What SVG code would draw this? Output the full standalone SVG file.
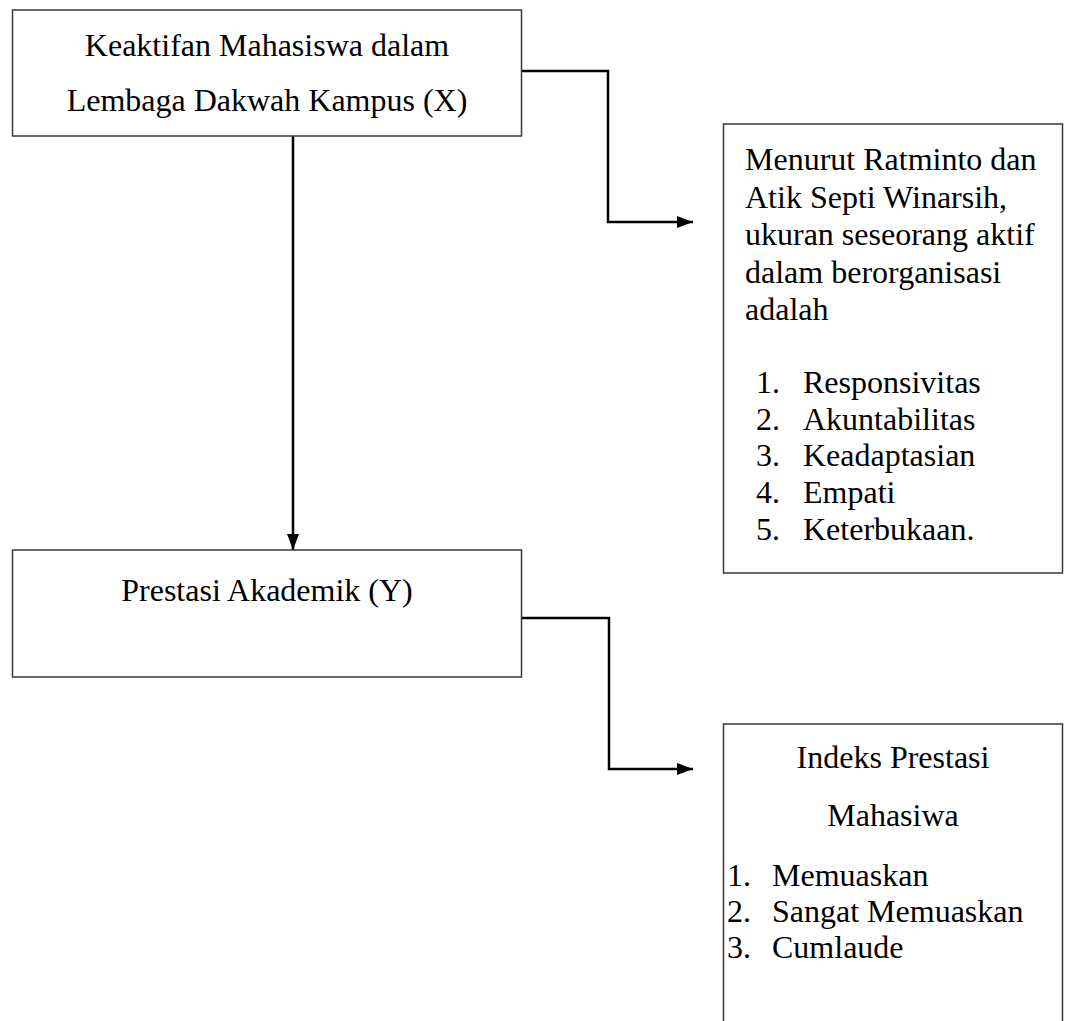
<svg xmlns="http://www.w3.org/2000/svg" width="1070" height="1021" viewBox="0 0 1070 1021">
<style>
.box{fill:#fff;stroke:#3a3a3a;stroke-width:1.5}
.t{font-family:"Liberation Serif","Times New Roman",serif;font-size:32px;fill:#000}
.c{text-anchor:middle}
.con{fill:none;stroke:#000;stroke-width:2.5}
</style>
<defs>
<marker id="ah" viewBox="0 0 16 12" refX="16" refY="6" markerWidth="16" markerHeight="12" markerUnits="userSpaceOnUse" orient="auto">
<path d="M0,0 L16,6 L0,12 Z" fill="#000"/>
</marker>
</defs>
<rect width="1070" height="1021" fill="#fff"/>
<g id="connectors">
<path class="con" d="M293,136 L293,550" marker-end="url(#ah)"/>
<path class="con" d="M522,71 L608,71 L608,222 L693,222" marker-end="url(#ah)"/>
<path class="con" d="M522,618 L609,618 L609,769 L693,769" marker-end="url(#ah)"/>
</g>
<g id="node-x">
<rect class="box" x="12.5" y="10" width="509" height="126"/>
<text class="t c" x="267" y="56">Keaktifan Mahasiswa dalam</text>
<text class="t c" x="267" y="111">Lembaga Dakwah Kampus (X)</text>
</g>
<g id="node-y">
<rect class="box" x="12.5" y="550" width="509" height="127"/>
<text class="t c" x="267" y="601">Prestasi Akademik (Y)</text>
</g>
<g id="node-indikator-x">
<rect class="box" x="723.5" y="124" width="339" height="449"/>
<text class="t" x="745" y="170">Menurut Ratminto dan</text>
<text class="t" x="745" y="207.5">Atik Septi Winarsih,</text>
<text class="t" x="745" y="245">ukuran seseorang aktif</text>
<text class="t" x="745" y="282.5">dalam berorganisasi</text>
<text class="t" x="745" y="320">adalah</text>
<text class="t" x="756" y="393">1.</text><text class="t" x="803" y="393">Responsivitas</text>
<text class="t" x="756" y="430">2.</text><text class="t" x="803" y="430">Akuntabilitas</text>
<text class="t" x="756" y="466">3.</text><text class="t" x="803" y="466">Keadaptasian</text>
<text class="t" x="756" y="503">4.</text><text class="t" x="803" y="503">Empati</text>
<text class="t" x="756" y="540">5.</text><text class="t" x="803" y="540">Keterbukaan.</text>
</g>
<g id="node-indikator-y">
<path class="box" d="M723.5,1022 L723.5,724 L1062.5,724 L1062.5,1022"/>
<text class="t c" x="893" y="768">Indeks Prestasi</text>
<text class="t c" x="893" y="826">Mahasiwa</text>
<text class="t" x="727" y="886">1.</text><text class="t" x="772" y="886">Memuaskan</text>
<text class="t" x="727" y="922">2.</text><text class="t" x="772" y="922">Sangat Memuaskan</text>
<text class="t" x="727" y="958">3.</text><text class="t" x="772" y="958">Cumlaude</text>
</g>
</svg>
